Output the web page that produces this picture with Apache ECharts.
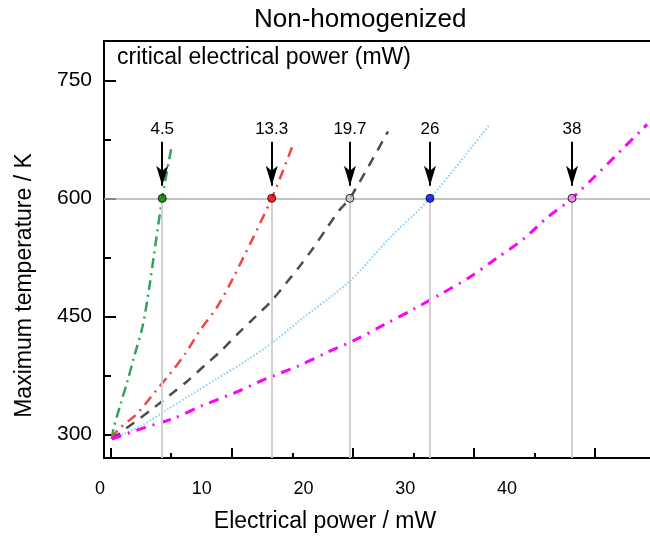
<!DOCTYPE html>
<html>
<head>
<meta charset="utf-8">
<script src="https://cdn.jsdelivr.net/npm/echarts@6/dist/echarts.min.js"></script>
<style>
html, body { margin: 0; padding: 0; background: #fff; }
#chart { width: 650px; height: 538px; }
</style>
</head>
<body>
<div id="chart"></div>
<script>
var font = "Liberation Sans, Arial, sans-serif";

// curves (power in mW, temperature in K)
var greenPower = [0.1, 0.23, 0.77, 1.39, 2.0, 2.63, 3.16, 4.26, 5.06];
var greenTemp = [294, 307, 336, 368, 402, 437, 484, 600, 668];

var redPower = [0.1, 0.6, 2.15, 3.66, 4.9, 6.14, 7.37, 8.75, 10.12, 13.3, 15.05];
var redTemp = [294, 306, 326, 354, 377, 402, 432, 461, 499, 600, 668];

var grayPower = [0.1, 1.84, 3.49, 4.9, 6.28, 7.79, 9.17, 10.51, 11.92, 13.3, 14.53, 15.63, 16.73, 17.84, 18.94, 19.76, 22.9];
var grayTemp = [294, 314, 333, 350, 367, 388, 407, 428, 449, 470, 493, 514, 537, 562, 586, 600, 685];

var bluePower = [0.1, 2.42, 4.62, 6.8, 9.03, 11.23, 13.4, 15.63, 19.76, 23.06, 26.37, 31.3];
var blueTemp = [294, 310, 331, 352, 373, 394, 417, 445, 495, 550, 600, 694];

var pinkPower = [0.1, 2.67, 5.14, 7.62, 10.12, 12.88, 15.5, 17.84, 20.31, 22.65, 24.99, 27.33, 29.67, 31.87, 34.07, 36.0, 38.1, 43.98, 44.3];
var pinkTemp = [294, 308, 320, 337, 352, 371, 387, 404, 421, 440, 459, 479, 500, 524, 548, 575, 600, 689, 694];

// critical points at 600 K
var critPower = [4.26, 13.3, 19.76, 26.37, 38.1];
var critLabels = ["4.5", "13.3", "19.7", "26", "38"];
var critTemp = 600;
var arrowTop = 672;
var arrowEnd = 616;

var xTicks = [0, 10, 20, 30, 40];
var xMinorTicks = [5, 15, 25, 35];
var xTickLabels = [0, 10, 20, 30, 40];
var yTicks = [300, 450, 600, 750];
var yMinorTicks = [375, 525, 675];

var lineColors = ["#2ea45c", "#f04444", "#4d4d4d", "#87cefa", "#ff00ff"];
var pointColors = ["#008000", "#ff0000", "#c0c0c0", "#0000ff", "#ee82ee"];

function pairs(xs, ys) {
    return xs.map(function (x, i) { return [x, ys[i]]; });
}

function curve(name, xs, ys, color, width, type) {
    return {
        name: name,
        type: "line",
        xAxisIndex: 0,
        yAxisIndex: 0,
        data: pairs(xs, ys),
        smooth: 0.3,
        showSymbol: false,
        silent: true,
        z: 3,
        lineStyle: { color: color, width: width, type: type }
    };
}

var chart = echarts.init(document.getElementById("chart"));

var guideLines = [{ yAxis: critTemp, lineStyle: { color: "#b0b0b0", width: 1.5 } }];
critPower.forEach(function (p) {
    guideLines.push([
        { coord: [p, critTemp], lineStyle: { color: "#d0d0d0", width: 2 } },
        { coord: [p, 270] }
    ]);
});

var arrows = critPower.map(function (p, i) {
    return [{ coord: [p, arrowTop], name: critLabels[i] }, { coord: [p, arrowEnd] }];
});

var option = {
    animation: false,
    title: {
        text: "Non-homogenized",
        left: 249,
        top: 2,
        textStyle: { fontFamily: font, fontSize: 26, fontWeight: "normal", color: "#000" }
    },
    graphic: [{
        type: "text",
        left: 117,
        top: 46,
        style: { text: "critical electrical power (mW)", fontFamily: font, fontSize: 23, fill: "#000" }
    }],
    grid: [
        { left: 104, right: 0, top: 41, bottom: 77 },
        { left: 100, right: 0, top: 41, bottom: 77 }
    ],
    xAxis: [
        {
            type: "value", gridIndex: 0, min: -0.55, max: 44.54, position: "bottom",
            axisLine: { onZero: false, lineStyle: { color: "#000", width: 2 } },
            axisTick: { inside: true, length: 10, customValues: xTicks, lineStyle: { color: "#000", width: 2 } },
            axisLabel: { show: false },
            splitLine: { show: false },
            name: "Electrical power / mW",
            nameLocation: "middle",
            nameGap: 52,
            nameTextStyle: { fontFamily: font, fontSize: 23, color: "#000", padding: [0, 104, 0, 0] }
        },
        {
            type: "value", gridIndex: 1, min: 0, max: 54.05, position: "bottom",
            axisLine: { show: false },
            axisTick: { show: false },
            axisLabel: { customValues: xTickLabels, margin: 19, fontFamily: font, fontSize: 18, color: "#000" },
            splitLine: { show: false }
        },
        {
            type: "value", gridIndex: 0, min: -0.55, max: 44.54, position: "top",
            axisLine: { onZero: false, lineStyle: { color: "#000", width: 2 } },
            axisTick: { show: false },
            axisLabel: { show: false },
            splitLine: { show: false }
        },
        {
            type: "value", gridIndex: 0, min: -0.55, max: 44.54, position: "bottom", offset: 0,
            axisLine: { show: false, onZero: false },
            axisTick: { inside: true, length: 5, customValues: xMinorTicks, lineStyle: { color: "#000", width: 2 } },
            axisLabel: { show: false },
            splitLine: { show: false }
        }
    ],
    yAxis: [
        {
            type: "value", gridIndex: 0, min: 270, max: 800, position: "left",
            axisLine: { show: true, onZero: false, lineStyle: { color: "#000", width: 2 } },
            axisTick: { inside: true, length: 12, customValues: yTicks, lineStyle: { color: "#000", width: 2 } },
            axisLabel: { customValues: yTicks, margin: 12, fontFamily: font, fontSize: 21, color: "#000" },
            splitLine: { show: false },
            name: "Maximum temperature / K",
            nameLocation: "middle",
            nameRotate: 90,
            nameGap: 68,
            nameTextStyle: { fontFamily: font, fontSize: 23, color: "#000", padding: [0, 72, 0, 0] }
        },
        {
            type: "value", gridIndex: 1, min: 270, max: 800, show: false
        },
        {
            type: "value", gridIndex: 0, min: 270, max: 800, position: "left", offset: 0,
            axisLine: { show: false, onZero: false },
            axisTick: { inside: true, length: 7, customValues: yMinorTicks, lineStyle: { color: "#000", width: 2 } },
            axisLabel: { show: false },
            splitLine: { show: false }
        }
    ],
    series: [
        {
            name: "guides",
            type: "scatter",
            data: [],
            symbolSize: 0,
            silent: true,
            z: 1,
            markLine: {
                silent: true,
                symbol: "none",
                label: { show: false },
                lineStyle: { type: "solid" },
                data: guideLines
            }
        },
        curve("green", greenPower, greenTemp, lineColors[0], 2.5, [10, 5, 2, 5]),
        curve("red", redPower, redTemp, lineColors[1], 2.5, [10, 6, 2, 6]),
        curve("gray", grayPower, grayTemp, lineColors[2], 2.5, [10, 8]),
        curve("blue", bluePower, blueTemp, lineColors[3], 2, [1.5, 2]),
        curve("pink", pinkPower, pinkTemp, lineColors[4], 3, [10, 7, 2, 7]),
        {
            name: "critical",
            type: "scatter",
            data: critPower.map(function (p, i) {
                return { value: [p, critTemp], itemStyle: { color: pointColors[i] } };
            }),
            symbolSize: 8,
            itemStyle: { borderColor: "#000", borderWidth: 1 },
            silent: true,
            z: 5,
            markLine: {
                silent: true,
                symbol: ["none", "arrow"],
                symbolSize: [9, 20],
                lineStyle: { color: "#000", width: 2, type: "solid" },
                label: { show: true, position: "start", formatter: "{b}", fontFamily: font, fontSize: 17, color: "#000", distance: 4 },
                data: arrows
            }
        }
    ]
};

chart.setOption(option);
window.addEventListener("resize", function () { chart.resize(); });
</script>
</body>
</html>
